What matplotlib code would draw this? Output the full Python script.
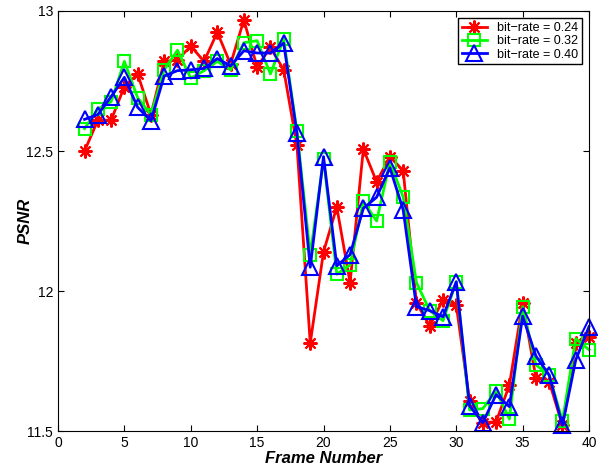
import numpy as np
import matplotlib.pyplot as plt

plt.rcParams['font.family'] = ['Liberation Sans', 'DejaVu Sans']

# Frame numbers and PSNR for each bit-rate
frames = list(range(2, 41))

psnr_024 = [12.50, 12.61, 12.61, 12.73, 12.775, 12.63, 12.82, 12.825, 12.875, 12.82,
            12.924, 12.81, 12.968, 12.80, 12.87, 12.79, 12.52, 11.814, 12.14, 12.30,
            12.03, 12.507, 12.39, 12.48, 12.43, 11.957, 11.876, 11.968, 11.95, 11.607,
            11.53, 11.533, 11.664, 11.957, 11.69, 11.676, 11.52, 11.814, 11.837]

psnr_032 = [12.58, 12.65, 12.676, 12.82, 12.69, 12.63, 12.79, 12.86, 12.76, 12.787,
            12.82, 12.79, 12.887, 12.894, 12.775, 12.90, 12.57, 12.13, 12.47, 12.06,
            12.093, 12.32, 12.25, 12.46, 12.336, 12.03, 11.93, 11.894, 12.033, 11.575,
            11.58, 11.644, 11.543, 11.944, 11.736, 11.70, 11.536, 11.83, 11.79]

psnr_040 = [12.613, 12.63, 12.694, 12.763, 12.656, 12.608, 12.768, 12.787, 12.79, 12.795,
            12.83, 12.804, 12.858, 12.85, 12.85, 12.885, 12.563, 12.085, 12.48, 12.09,
            12.13, 12.295, 12.335, 12.44, 12.29, 11.944, 11.93, 11.908, 12.033, 11.59,
            11.53, 11.63, 11.587, 11.91, 11.768, 11.70, 11.52, 11.754, 11.873]

fig = plt.figure(figsize=(5.98, 4.68), dpi=100)
ax = fig.add_axes([0.097, 0.079, 0.888, 0.8975])

ax.plot(frames, psnr_024, color='red', lw=2, marker=(8, 2, 0), ms=10, mew=1.5,
        label='bit\u2212rate = 0.24', clip_on=False)
ax.plot(frames, psnr_032, color=(0, 1, 0), lw=2, marker='s', ms=9, mew=1.5,
        mfc='none', label='bit\u2212rate = 0.32', clip_on=False)
ax.plot(frames, psnr_040, color='blue', lw=2, marker='^', ms=11, mew=1.5,
        mfc='none', label='bit\u2212rate = 0.40', clip_on=False)

ax.set_xlim(0, 40)
ax.set_ylim(11.5, 13)
ax.set_xticks(np.arange(0, 41, 5))
ax.set_yticks([11.5, 12, 12.5, 13])
ax.set_yticklabels(['11.5', '12', '12.5', '13'])
ax.tick_params(direction='in', top=True, right=True, labelsize=10, length=4)
ax.set_xlabel('Frame Number', fontsize=12, fontweight='bold', fontstyle='italic', labelpad=1)
ax.set_ylabel('PSNR', fontsize=12, fontweight='bold', fontstyle='italic')
ax.yaxis.set_label_coords(-0.047, 0.5)

leg = ax.legend(loc='upper right', fontsize=9, fancybox=False, framealpha=1,
                edgecolor='black', borderaxespad=0.6, handlelength=2.0,
                labelspacing=0.1, borderpad=0.3)
leg.get_frame().set_linewidth(1)

fig.savefig('out.png', dpi=100)
